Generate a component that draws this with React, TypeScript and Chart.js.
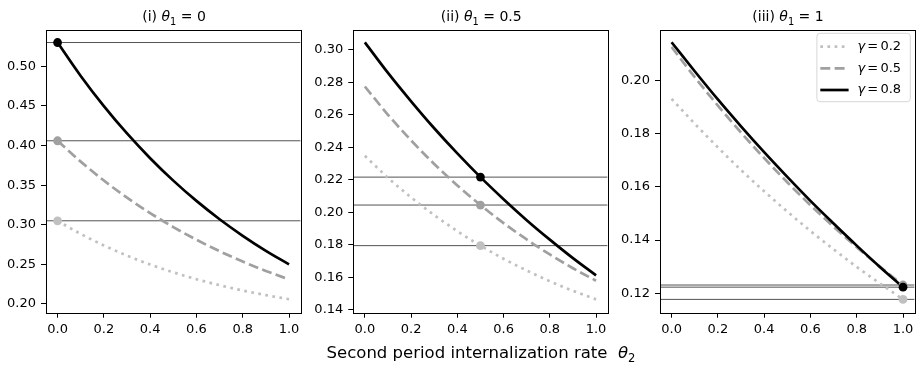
import React, { useEffect, useRef } from "react";
import { Chart, registerables } from "chart.js";

Chart.register(...registerables);

// ---------- data ----------
const theta2 = [0, 0.1, 0.2, 0.3, 0.4, 0.5, 0.6, 0.7, 0.8, 0.9, 1.0];
const gammaLabels = ["0.2", "0.5", "0.8"];
const theta1Values = [0, 0.5, 1];
const theta1Labels = ["0", "0.5", "1"];
const panelNumerals = ["(i)", "(ii)", "(iii)"];

// panel (i): theta1 = 0
const p1Gamma02 = [0.305, 0.2884, 0.2739, 0.2611, 0.2498, 0.24, 0.2313, 0.2237, 0.217, 0.2112, 0.206];
const p1Gamma05 = [0.406, 0.3797, 0.3558, 0.3343, 0.3147, 0.2971, 0.2811, 0.2666, 0.2535, 0.2417, 0.231];
const p1Gamma08 = [0.53, 0.4878, 0.4497, 0.4152, 0.384, 0.3557, 0.3301, 0.307, 0.2861, 0.2671, 0.25];

// panel (ii): theta1 = 0.5
const p2Gamma02 = [0.2348, 0.2213, 0.2092, 0.1983, 0.1884, 0.1795, 0.1714, 0.1642, 0.1576, 0.1517, 0.1464];
const p2Gamma05 = [0.2775, 0.2601, 0.2443, 0.2298, 0.2166, 0.2045, 0.1934, 0.1833, 0.1741, 0.1656, 0.1579];
const p2Gamma08 = [0.3047, 0.2859, 0.2684, 0.2518, 0.2363, 0.2217, 0.2081, 0.1952, 0.1832, 0.1718, 0.1612];

// panel (iii): theta1 = 1
const p3Gamma02 = [0.193, 0.1837, 0.1748, 0.1663, 0.1583, 0.1507, 0.1434, 0.1365, 0.1299, 0.1237, 0.1177];
const p3Gamma05 = [0.2125, 0.2012, 0.1905, 0.1804, 0.1708, 0.1617, 0.1531, 0.145, 0.1373, 0.13, 0.1231];
const p3Gamma08 = [0.2143, 0.2034, 0.1928, 0.1827, 0.173, 0.1637, 0.1547, 0.1462, 0.1379, 0.1299, 0.1223];

const xTicks = [0, 0.2, 0.4, 0.6, 0.8, 1.0];
const xRange = [-0.05, 1.05];
const p1YTicks = [0.2, 0.25, 0.3, 0.35, 0.4, 0.45, 0.5];
const p2YTicks = [0.14, 0.16, 0.18, 0.2, 0.22, 0.24, 0.26, 0.28, 0.3];
const p3YTicks = [0.12, 0.14, 0.16, 0.18, 0.2];
const p1YRange = [0.189, 0.5458];
const p2YRange = [0.1382, 0.3123];
const p3YRange = [0.1127, 0.2189];

const panelSeries = [
  [p1Gamma02, p1Gamma05, p1Gamma08],
  [p2Gamma02, p2Gamma05, p2Gamma08],
  [p3Gamma02, p3Gamma05, p3Gamma08],
];
const panelYTicks = [p1YTicks, p2YTicks, p3YTicks];
const panelYRanges = [p1YRange, p2YRange, p3YRange];

// ---------- styles ----------
const FONT = "'DejaVu Sans', sans-serif";
const TICK_SIZE = 13;
const LW = 2.7;
const seriesStyles = [
  { color: "#c0c0c0", dash: [LW, LW * 1.65] },
  { color: "#a0a0a0", dash: [LW * 3.7, LW * 1.6] },
  { color: "#000000", dash: [] as number[] },
];
const CANVAS_W = 305;
const CANVAS_H = 367;
const panelGeom = [
  { canvasLeft: 0, yAxisW: 46, padRight: 3 },
  { canvasLeft: 307, yAxisW: 46.3, padRight: 2.7 },
  { canvasLeft: 614, yAxisW: 46, padRight: 3 },
];
const PAD_TOP = 30;
const X_AXIS_H = 30;
const PAD_BOTTOM = CANVAS_H - 312.7 - X_AXIS_H;

function Panel({ index }: { index: number }) {
  const ref = useRef<HTMLCanvasElement | null>(null);
  useEffect(() => {
    const canvas = ref.current;
    if (!canvas) return;
    const series = panelSeries[index];
    const yTicks = panelYTicks[index];
    const yRange = panelYRanges[index];
    const geom = panelGeom[index];
    const markIdx = theta2.indexOf(theta1Values[index]);
    const hlineValues = series.map((s) => s[markIdx]);

    const datasets: any[] = [];
    for (let g = 2; g >= 0; g--) {
      datasets.push({
        type: "scatter",
        data: [{ x: theta2[markIdx], y: series[g][markIdx] }],
        pointRadius: 4.4,
        pointHoverRadius: 4.4,
        pointBackgroundColor: seriesStyles[g].color,
        pointBorderWidth: 0,
        borderWidth: 0,
        showLine: false,
        order: 2 - g,
        clip: false,
      });
    }
    for (let g = 2; g >= 0; g--) {
      datasets.push({
        type: "line",
        data: theta2.map((x, i) => ({ x, y: series[g][i] })),
        borderColor: seriesStyles[g].color,
        borderWidth: LW,
        borderDash: seriesStyles[g].dash,
        pointRadius: 0,
        fill: false,
        cubicInterpolationMode: "monotone",
        order: 10 + (2 - g),
      });
    }

    const framePlugin = {
      id: "frameAndLines",
      beforeDatasetsDraw(chart: any) {
        const { ctx, chartArea, scales } = chart;
        ctx.save();
        ctx.beginPath();
        ctx.rect(chartArea.left, chartArea.top, chartArea.right - chartArea.left, chartArea.bottom - chartArea.top);
        ctx.clip();
        ctx.strokeStyle = "rgba(0,0,0,0.68)";
        ctx.lineWidth = 1;
        hlineValues.forEach((v) => {
          const y = scales.y.getPixelForValue(v);
          ctx.beginPath();
          ctx.moveTo(chartArea.left, y);
          ctx.lineTo(chartArea.right, y);
          ctx.stroke();
        });
        ctx.restore();
      },
      afterDraw(chart: any) {
        const { ctx, chartArea } = chart;
        ctx.save();
        ctx.strokeStyle = "#000";
        ctx.lineWidth = 1;
        const l = Math.round(chartArea.left) + 0.5;
        const t = Math.round(chartArea.top) + 0.5;
        const r = Math.round(chartArea.right) + 0.5;
        const b = Math.round(chartArea.bottom) + 0.5;
        ctx.strokeRect(l, t, r - l, b - t);

        if (index === 2) {
          const bw = 93.4;
          const bh = 68.4;
          const bx = chartArea.right - 4.3 - bw;
          const by = chartArea.top + 3.3;
          ctx.beginPath();
          const rr = 3;
          ctx.moveTo(bx + rr, by);
          ctx.arcTo(bx + bw, by, bx + bw, by + bh, rr);
          ctx.arcTo(bx + bw, by + bh, bx, by + bh, rr);
          ctx.arcTo(bx, by + bh, bx, by, rr);
          ctx.arcTo(bx, by, bx + bw, by, rr);
          ctx.closePath();
          ctx.fillStyle = "rgba(255,255,255,0.85)";
          ctx.fill();
          ctx.strokeStyle = "#d6d6d6";
          ctx.lineWidth = 1;
          ctx.stroke();
          for (let g = 0; g < 3; g++) {
            const y = by + 13.3 + g * 21.7;
            ctx.beginPath();
            ctx.setLineDash(seriesStyles[g].dash);
            ctx.strokeStyle = seriesStyles[g].color;
            ctx.lineWidth = LW;
            ctx.moveTo(bx + 3.4, y);
            ctx.lineTo(bx + 31.7, y);
            ctx.stroke();
            ctx.setLineDash([]);
            ctx.fillStyle = "#000";
            ctx.textBaseline = "middle";
            ctx.textAlign = "left";
            let tx = bx + 40.5;
            ctx.font = `italic ${TICK_SIZE}px ${FONT}`;
            ctx.fillText("γ", tx, y);
            tx += ctx.measureText("γ").width + 2.2;
            ctx.font = `${TICK_SIZE}px ${FONT}`;
            ctx.fillText("=", tx, y);
            tx += ctx.measureText("=").width + 2.2;
            ctx.fillText(gammaLabels[g], tx, y);
          }
        }
        ctx.restore();
      },
    };

    const chart = new Chart(canvas, {
      type: "line",
      data: { datasets },
      options: {
        animation: false,
        responsive: false,
        maintainAspectRatio: false,
        devicePixelRatio: 1,
        layout: { padding: { top: PAD_TOP, left: 0, right: geom.padRight, bottom: PAD_BOTTOM } },
        plugins: { legend: { display: false }, tooltip: { enabled: false }, title: { display: false } },
        events: [],
        scales: {
          x: {
            type: "linear",
            min: xRange[0],
            max: xRange[1],
            afterFit: (s: any) => { s.height = X_AXIS_H; },
            afterBuildTicks: (s: any) => { s.ticks = xTicks.map((v) => ({ value: v })); },
            border: { display: false },
            grid: { drawOnChartArea: false, drawTicks: true, tickLength: 5, color: "#000", lineWidth: 1 },
            ticks: {
              color: "#000",
              font: { family: FONT, size: TICK_SIZE },
              padding: 4,
              maxRotation: 0,
              callback: (v: any) => Number(v).toFixed(1),
            },
          },
          y: {
            type: "linear",
            min: yRange[0],
            max: yRange[1],
            afterFit: (s: any) => { s.width = geom.yAxisW; },
            afterBuildTicks: (s: any) => { s.ticks = yTicks.map((v) => ({ value: v })); },
            border: { display: false },
            grid: { drawOnChartArea: false, drawTicks: true, tickLength: 5, color: "#000", lineWidth: 1 },
            ticks: {
              color: "#000",
              font: { family: FONT, size: TICK_SIZE },
              padding: 5,
              callback: (v: any) => Number(v).toFixed(2),
            },
          },
        },
      },
      plugins: [framePlugin],
    } as any);
    return () => chart.destroy();
  }, [index]);

  const geom = panelGeom[index];
  return (
    <canvas
      ref={ref}
      width={CANVAS_W}
      height={CANVAS_H}
      style={{ position: "absolute", left: geom.canvasLeft, top: 0, width: CANVAS_W, height: CANVAS_H }}
    />
  );
}

function Title({ index }: { index: number }) {
  const g = panelGeom[index];
  const center = g.canvasLeft + (g.yAxisW + (CANVAS_W - g.padRight)) / 2;
  return (
    <div
      style={{
        position: "absolute",
        left: center - 100,
        width: 200,
        top: 5.9,
        height: 20,
        lineHeight: "20px",
        textAlign: "center",
        fontFamily: FONT,
        fontSize: 14,
        color: "#000",
        whiteSpace: "pre",
      }}
    >
      {panelNumerals[index] + " "}
      <i>θ</i>
      <span style={{ fontSize: "70%", verticalAlign: "-3.6px", lineHeight: 0 }}>1</span>
      {" = " + theta1Labels[index]}
    </div>
  );
}

export default function App() {
  return (
    <div style={{ position: "absolute", left: 0, top: 0, width: 919, height: 367, background: "#fff", overflow: "hidden" }}>
      {[0, 1, 2].map((i) => (
        <Panel key={"p" + i} index={i} />
      ))}
      {[0, 1, 2].map((i) => (
        <Title key={"t" + i} index={i} />
      ))}
      <div
        style={{
          position: "absolute",
          left: 481 - 250,
          width: 500,
          top: 343.3,
          height: 20,
          lineHeight: "20px",
          textAlign: "center",
          fontFamily: FONT,
          fontSize: 16.5,
          color: "#000",
          whiteSpace: "pre",
        }}
      >
        {"Second period internalization rate  "}
        <i>θ</i>
        <span style={{ fontSize: "70%", verticalAlign: "-4px", lineHeight: 0 }}>2</span>
      </div>
    </div>
  );
}
